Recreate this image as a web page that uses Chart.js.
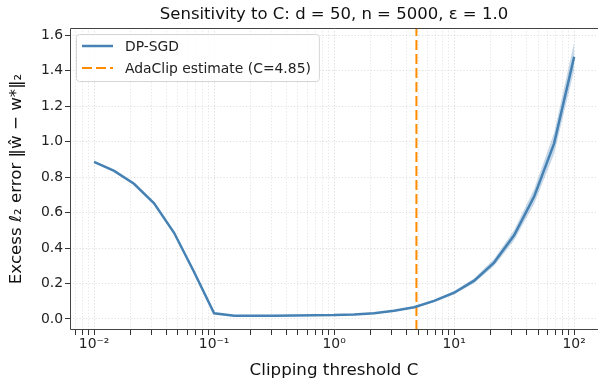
<!DOCTYPE html>
<html>
<head>
<meta charset="utf-8">
<script src="https://cdn.jsdelivr.net/npm/chart.js@4.4.1/dist/chart.umd.min.js"></script>
<style>
  html, body { margin: 0; padding: 0; background: #fff; }
</style>
</head>
<body>
<canvas id="chart" width="598" height="381"></canvas>
<script>
// clipping thresholds (log spaced) and excess error
const clipC = [0.01, 0.0147, 0.0215, 0.0316, 0.0464, 0.0681, 0.1, 0.147, 0.215, 0.316,
  0.464, 0.681, 1, 1.47, 2.15, 3.16, 4.64, 6.81, 10, 14.7, 21.5, 31.6, 46.4, 68.1, 100]
const errMean = [0.885, 0.835, 0.762, 0.652, 0.486, 0.265, 0.032, 0.019, 0.019, 0.019,
  0.02, 0.021, 0.022, 0.026, 0.033, 0.046, 0.066, 0.102, 0.148, 0.216, 0.318, 0.472, 0.69, 0.99, 1.478]
const errLow = [0.88, 0.83, 0.757, 0.647, 0.481, 0.26, 0.03, 0.017, 0.017, 0.017,
  0.018, 0.019, 0.02, 0.023, 0.03, 0.042, 0.061, 0.095, 0.138, 0.203, 0.298, 0.442, 0.648, 0.93, 1.40]
const errHigh = [0.89, 0.84, 0.767, 0.657, 0.491, 0.27, 0.034, 0.021, 0.021, 0.021,
  0.022, 0.023, 0.024, 0.029, 0.036, 0.05, 0.071, 0.109, 0.158, 0.229, 0.338, 0.502, 0.732, 1.05, 1.56]
const adaClipC = 4.85

const xDecades = [-2, -1, 0, 1, 2]
const xTickLabels = ['10⁻²', '10⁻¹', '10⁰', '10¹', '10²']
const yTicks = [0, 0.2, 0.4, 0.6, 0.8, 1.0, 1.2, 1.4, 1.6]
const xRange = [0.0063, 158]
const yRange = [-0.062, 1.64]

const blue = '#4682b4'
const orange = '#ff8c00'
const fontFamily = '"DejaVu Sans", sans-serif'

const points = (ys) => clipC.map((c, i) => ({ x: c, y: ys[i] }))

// all log ticks (1..9 x 10^d) inside the range, majors get a label
const xTicks = []
for (let d = -3; d <= 2; d++) {
  for (let m = 1; m <= 9; m++) {
    const v = m * Math.pow(10, d)
    if (v >= xRange[0] && v <= xRange[1]) xTicks.push({ value: v, major: m === 1 })
  }
}

// spines (right one falls off the figure) and a legend box inside the axes
const framePlugin = {
  id: 'frame',
  afterDraw (chart) {
    const { ctx, chartArea: a } = chart
    ctx.save()
    ctx.strokeStyle = '#444'
    ctx.lineWidth = 1
    ctx.beginPath()
    ctx.moveTo(a.right + 2, a.top + 0.5)
    ctx.lineTo(a.left + 0.5, a.top + 0.5)
    ctx.lineTo(a.left + 0.5, a.bottom - 0.5)
    ctx.lineTo(a.right + 2, a.bottom - 0.5)
    ctx.stroke()

    const items = chart.data.datasets.filter(ds => !ds.label.startsWith('band'))
    ctx.font = '13.9px ' + fontFamily
    const textW = Math.max(...items.map(ds => ctx.measureText(ds.label).width))
    const bx = a.left + 6, by = a.top + 6
    ctx.beginPath()
    ctx.roundRect(bx + 0.5, by + 0.5, 49 + textW + 8, 47, 3)
    ctx.fillStyle = 'rgba(255,255,255,0.85)'
    ctx.fill()
    ctx.strokeStyle = '#d5d5d5'
    ctx.stroke()

    items.forEach((ds, i) => {
      const y = by + 12 + i * 22
      ctx.beginPath()
      ctx.setLineDash(ds.borderDash || [])
      ctx.strokeStyle = ds.borderColor
      ctx.lineWidth = ds.borderWidth
      ctx.moveTo(bx + 6, y)
      ctx.lineTo(bx + 37, y)
      ctx.stroke()
      ctx.setLineDash([])
      ctx.fillStyle = '#222'
      ctx.textBaseline = 'middle'
      ctx.fillText(ds.label, bx + 49, y + 1)
    })
    ctx.restore()
  }
}

new Chart(document.getElementById('chart'), {
  type: 'line',
  data: {
    datasets: [
      {
        label: 'band-low',
        data: points(errLow),
        borderWidth: 0,
        pointRadius: 0,
        fill: false
      },
      {
        label: 'band-high',
        data: points(errHigh),
        borderWidth: 0,
        pointRadius: 0,
        backgroundColor: 'rgba(70,130,180,0.3)',
        fill: '-1'
      },
      {
        label: 'DP-SGD',
        data: points(errMean),
        borderColor: blue,
        backgroundColor: blue,
        borderWidth: 2.5,
        pointRadius: 0,
        tension: 0,
        fill: false
      },
      {
        label: 'AdaClip estimate (C=' + adaClipC + ')',
        data: [{ x: adaClipC, y: yRange[0] }, { x: adaClipC, y: yRange[1] }],
        borderColor: orange,
        backgroundColor: orange,
        borderWidth: 2,
        borderDash: [10, 4],
        pointRadius: 0,
        fill: false
      }
    ]
  },
  options: {
    responsive: false,
    animation: false,
    devicePixelRatio: 1,
    layout: { padding: { left: 4, right: 0, top: 0, bottom: 0 } },
    plugins: {
      title: {
        display: true,
        fullSize: false,
        text: 'Sensitivity to C: d = 50, n = 5000, ε = 1.0',
        color: '#111',
        font: { family: fontFamily, size: 16.5, weight: 'normal' },
        padding: { top: 4.5, bottom: 3.7 }
      },
      legend: { display: false },
      tooltip: { enabled: false }
    },
    scales: {
      x: {
        type: 'logarithmic',
        min: xRange[0],
        max: xRange[1],
        afterBuildTicks: (scale) => { scale.ticks = xTicks.map(t => ({ ...t })) },
        afterFit: (scale) => { scale.height = 51 },
        ticks: {
          autoSkip: false,
          maxRotation: 0,
          padding: 1,
          color: '#222',
          font: { family: fontFamily, size: 13.9 },
          callback: (value) => {
            const i = xDecades.findIndex(d => Math.abs(Math.pow(10, d) - value) < 1e-9 * Math.pow(10, d) + 1e-12)
            return i >= 0 ? xTickLabels[i] : ''
          }
        },
        grid: {
          color: (c) => c.tick && c.tick.major ? '#cfcfcf' : '#dedede',
          lineWidth: 0.8,
          tickLength: 5,
          tickColor: '#333',
          tickWidth: 1
        },
        border: { display: false, dash: [1.2, 2] },
        title: {
          display: true,
          text: 'Clipping threshold C',
          color: '#111',
          font: { family: fontFamily, size: 16.7 },
          padding: 0
        }
      },
      y: {
        type: 'linear',
        min: yRange[0],
        max: yRange[1],
        afterBuildTicks: (scale) => { scale.ticks = yTicks.map(v => ({ value: v })) },
        afterFit: (scale) => { scale.width = 66 },
        ticks: {
          padding: 2,
          color: '#222',
          font: { family: fontFamily, size: 13.9 },
          callback: (value) => value.toFixed(1)
        },
        grid: {
          color: '#d6d6d6',
          lineWidth: 0.8,
          tickLength: 5,
          tickColor: '#333',
          tickWidth: 1
        },
        border: { display: false, dash: [1.2, 2] },
        title: {
          display: true,
          text: 'Excess ℓ₂ error ‖ŵ − w*‖₂',
          color: '#111',
          font: { family: fontFamily, size: 16.7 },
          padding: { top: 3, bottom: 0 }
        }
      }
    }
  },
  plugins: [framePlugin]
})
</script>
</body>
</html>
